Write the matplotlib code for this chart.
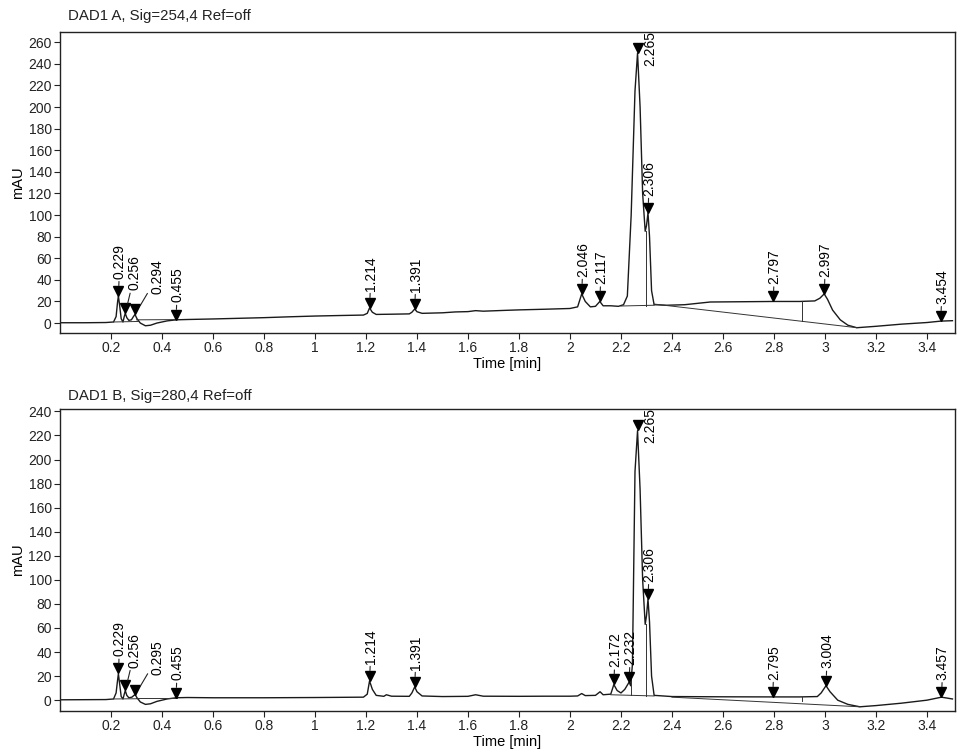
import numpy as np
import matplotlib
matplotlib.use('Agg')
import matplotlib.pyplot as plt
from matplotlib.transforms import offset_copy

plt.rcParams['font.family'] = ['Liberation Sans', 'DejaVu Sans']
plt.rcParams['font.size'] = 10

# ---- signal A (254 nm) ----
time_a = [0.00, 0.10, 0.18, 0.21, 0.220, 0.226, 0.229, 0.233, 0.240, 0.247, 0.252, 0.256, 0.262,
          0.270, 0.280, 0.288, 0.294, 0.302, 0.315, 0.335, 0.355, 0.38, 0.42, 0.455, 0.50, 0.60,
          0.70, 0.80, 0.90, 1.00, 1.10, 1.19, 1.205, 1.214, 1.225, 1.24, 1.30, 1.37, 1.38, 1.391,
          1.40, 1.42, 1.50, 1.55, 1.60, 1.63, 1.66, 1.75, 1.80, 1.90, 2.00, 2.03, 2.046, 2.06,
          2.08, 2.10, 2.117, 2.13, 2.16, 2.19, 2.21, 2.225, 2.24, 2.255, 2.265, 2.275, 2.285,
          2.295, 2.300, 2.306, 2.312, 2.32, 2.33, 2.38, 2.45, 2.55, 2.70, 2.80, 2.90, 2.96, 2.98,
          2.997, 3.01, 3.03, 3.06, 3.09, 3.125, 3.20, 3.30, 3.40, 3.454, 3.50]
mau_a = [0.3, 0.3, 0.5, 1.0, 6, 20, 25, 18, 4, 1, 6, 9, 5,
         2.5, 3, 6, 8, 4, 0, -2.5, -2, 0, 2, 3, 3.3, 3.8,
         4.4, 5, 5.8, 6.5, 7, 7.4, 9, 14, 10, 8, 8.2, 8.5, 10, 13,
         10.5, 9, 9.5, 10.3, 10.6, 11.5, 11, 11.8, 12.2, 12.8, 13.5, 15, 27, 20,
         15, 15.5, 20, 16, 16, 15.5, 17, 25, 100, 215, 250, 200, 120,
         85, 90, 102, 80, 30, 17, 16.5, 17, 19.5, 19.8, 20, 20, 20.5, 23,
         27, 22, 12, 3, -2, -4.3, -3, -1, 0.5, 1.8, 2.2]
peaks_a = ['0.229', '0.256', '0.294', '0.455', '1.214', '1.391', '2.046', '2.117',
           '2.265', '2.306', '2.797', '2.997', '3.454']
apex_a = [25, 9, 8, 3, 14, 13, 27, 20, 250, 102, 20, 27, 1.8]
# integration baselines / drop lines (t0, y0, t1, y1)
base_a = [(0.21, 1.0, 0.31, 1.5), (0.245, 1.0, 0.245, 1.2), (0.30, 3.0, 0.46, 3.2),
          (2.20, 15.8, 2.33, 16.5), (2.298, 16.2, 2.298, 85),
          (2.33, 17.6, 3.125, -4.3), (2.91, 1.7, 2.91, 20)]

# ---- signal B (280 nm) ----
time_b = [0.00, 0.18, 0.21, 0.220, 0.226, 0.229, 0.233, 0.240, 0.247, 0.252, 0.256, 0.262, 0.270,
          0.282, 0.290, 0.295, 0.302, 0.315, 0.335, 0.355, 0.38, 0.42, 0.455, 0.50, 0.60, 0.80,
          1.00, 1.19, 1.205, 1.214, 1.225, 1.24, 1.27, 1.28, 1.30, 1.37, 1.38, 1.391, 1.40, 1.42,
          1.50, 1.60, 1.63, 1.66, 1.80, 1.90, 2.00, 2.03, 2.046, 2.06, 2.10, 2.118, 2.13, 2.16,
          2.172, 2.185, 2.20, 2.215, 2.232, 2.238, 2.245, 2.255, 2.265, 2.275, 2.285, 2.295,
          2.300, 2.306, 2.312, 2.32, 2.33, 2.40, 2.60, 2.80, 2.90, 2.97, 2.985, 3.004, 3.02,
          3.05, 3.09, 3.137, 3.20, 3.30, 3.40, 3.457, 3.50]
mau_b = [0.3, 0.5, 1, 6, 17, 22, 15, 3, 1, 5, 8, 4, 2,
         2.5, 4, 4.5, 2, -1.5, -3.5, -3, -1, 1, 2, 2.2, 2, 2,
         2.2, 2.5, 5, 16, 9, 4, 3.2, 4.5, 3.3, 3.2, 6, 11, 7, 3.5,
         3, 3.2, 4.5, 3.3, 3.2, 3.3, 3.3, 3.5, 5.5, 3.8, 4, 7, 4.5, 5,
         13, 8, 6, 9, 15, 12, 30, 190, 224, 175, 100, 63,
         70, 84, 65, 20, 4, 3, 2.8, 2.7, 2.7, 3, 6, 12, 7,
         0, -3.5, -5.5, -4.5, -2.5, 0, 2.5, 1]
peaks_b = ['0.229', '0.256', '0.295', '0.455', '1.214', '1.391', '2.172', '2.232',
           '2.265', '2.306', '2.795', '3.004', '3.457']
apex_b = [22, 8, 4.5, 2, 16, 11, 13, 15, 224, 84, 2.7, 12, 2.5]
base_b = [(0.21, 1.0, 0.31, 1.2), (0.30, 2.0, 0.46, 2.0),
          (2.16, 4.5, 2.33, 3.5), (2.24, 4.2, 2.24, 20), (2.298, 3.8, 2.298, 63),
          (2.40, 2.5, 3.137, -5.5), (2.91, -0.8, 2.91, 2.5)]

# label nudges in points (dx, dy) for crowded peaks
nudge = {'0.256': (6, 4), '0.294': (15, 2), '0.295': (15, 2), '2.265': (8.5, -21.5)}
no_leader = ['2.265']

fig = plt.figure(figsize=(9.63, 7.54), dpi=100)
ax1 = fig.add_axes([60/963, 421/754, 895/963, 301/754])
ax2 = fig.add_axes([60/963, 43/754, 895/963, 302/754])

ms = 7.5

def draw(ax, t, y, peaks, apex, base, ylim, ymax_tick, title, title_y):
    ax.plot(t, y, color='#1a1a1a', lw=1.0)
    for t0, y0, t1, y1 in base:
        ax.plot([t0, t1], [y0, y1], color='#333333', lw=0.7)
    # peak markers, tip sitting on the apex
    trans = offset_copy(ax.transData, fig=fig, x=0, y=ms/2, units='points')
    for lab, h in zip(peaks, apex):
        rt = float(lab)
        ax.plot(rt, h, marker='v', ms=ms, color='black', transform=trans, clip_on=False)
        dx, dy = nudge.get(lab, (0, 0))
        arrow = None
        if lab not in no_leader:
            arrow = dict(arrowstyle='-', lw=0.8, color='#222222', shrinkA=0, shrinkB=ms)
        ann = ax.annotate(lab, xy=(rt, h), xytext=(dx + 1, ms + 5 + dy), textcoords='offset points',
                          rotation=90, ha='center', va='bottom', fontsize=10, arrowprops=arrow)
        ann.set_clip_box(ax.bbox)
        ann.set_clip_on(True)
    ax.set_xlim(0, 3.51)
    ax.set_ylim(*ylim)
    xt = np.arange(0.2, 3.41, 0.2)
    ax.set_xticks(xt)
    ax.set_xticklabels(['%g' % round(v, 1) for v in xt])
    ax.set_yticks(np.arange(0, ymax_tick + 1, 20))
    ax.tick_params(direction='out', length=4, width=0.8, labelsize=10, pad=2, colors='#222222')
    for s in ax.spines.values():
        s.set_linewidth(1.0)
        s.set_color('#222222')
    ax.set_ylabel('mAU', fontsize=10.5, labelpad=2)
    ax.set_xlabel('Time [min]', fontsize=10.5, labelpad=1)
    fig.text(68/963, title_y, title, fontsize=10.8, ha='left', va='center', color='#222222')

draw(ax1, time_a, mau_a, peaks_a, apex_a, base_a, (-9.2, 269.5), 260,
     'DAD1 A, Sig=254,4 Ref=off', 1 - 16/754)
draw(ax2, time_b, mau_b, peaks_b, apex_b, base_b, (-9, 242), 240,
     'DAD1 B, Sig=280,4 Ref=off', 1 - 396/754)

fig.savefig('out.png', dpi=100)
